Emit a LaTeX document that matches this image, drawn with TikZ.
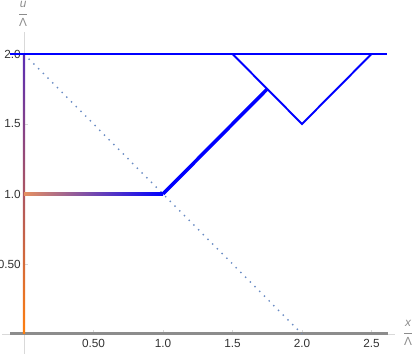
\documentclass[tikz,border=0pt]{standalone}
\usepackage{fontspec}
\setmainfont{Liberation Sans}
\usepackage{amsmath}
\usetikzlibrary{positioning}
\definecolor{flow}{HTML}{0000FF}
\definecolor{guide}{HTML}{6A8CC4}
\definecolor{axisgray}{HTML}{8C8C8C}
\definecolor{axislight}{HTML}{D9D9D9}
\definecolor{ticktext}{HTML}{333333}
\definecolor{hot}{HTML}{FF7F0E}
\definecolor{warm}{HTML}{B85A5A}
\definecolor{cool}{HTML}{5A2DB4}
\definecolor{pale}{HTML}{E69060}

\begin{document}
\begin{tikzpicture}[x=2.78cm,y=2.8cm,
    ticklabel/.style={font=\fontsize{6.7}{7}\selectfont,text=ticktext,inner sep=0pt},
    tickmark/.style={axislight,line width=0.4pt},
    axislabel/.style={font=\fontsize{6.7}{7}\selectfont,text=axisgray,inner sep=0pt}]
  \useasboundingbox (-0.1727,-0.1429) rectangle (2.813,2.3857);
  % axes
  \draw[axislight,line width=0.5pt] (-0.158,0) -- (2.67,0);
  \draw[axislight,line width=0.5pt] (0,-0.143) -- (0,2.157);
  \foreach \t/\lab [count=\i] in {0.5/0.50,1/1.0,1.5/1.5,2/2.0,2.5/2.5}{
    \draw[tickmark] (\t,0) -- ++(0,2.3pt);
    \node[ticklabel,anchor=north] (xtick\i) at ([yshift=-2.8pt]\t,0) {\lab};
  }
  \foreach \t/\lab [count=\i] in {0.5/0.50,1/1.0,1.5/1.5,2/2.0}{
    \draw[tickmark] (0,\t) -- ++(2.3pt,0);
    \node[ticklabel,anchor=east] (ytick\i) at ([xshift=-1.7pt]0,\t) {\lab};
  }
  \node[axislabel] (ylab) at (-0.007,2.286) {$\dfrac{\text{\itshape u}}{\text{Λ}}$};
  \node[axislabel] (xlab) at (2.763,0.007) {$\dfrac{\text{\itshape x}}{\text{Λ}}$};
  \draw[axisgray,line width=1.7pt] (-0.1,0) -- (2.62,0);

  % curve points
  \coordinate (origin) at (0,0);
  \coordinate (top) at (0,2);
  \coordinate (mid) at (0,1);
  \coordinate (kink) at (1,1);
  \coordinate (reach) at (1.75,1.75);
  \coordinate (left) at (-0.1,2);
  \coordinate (right) at (2.61,2);
  \coordinate (vleft) at (1.5,2);
  \coordinate (vtip) at (2,1.5);
  \coordinate (vright) at (2.5,2);
  \coordinate (cross) at (2,0);

  % diagonal guide
  \draw[guide,line width=0.8pt,dash pattern=on 0.8pt off 3pt] (top) -- (cross);

  % coloured branches
  \shade[bottom color=hot,middle color=warm,top color=cool]
    ([xshift=-0.6pt]origin) rectangle ([xshift=0.6pt]top);
  \shade[left color=pale,middle color=cool!80!pale,right color=flow]
    ([yshift=-0.7pt]mid) rectangle ([yshift=0.7pt]kink);

  % blue branches
  \draw[flow,line width=1.1pt] (left) -- (right);
  \draw[flow,line width=1.1pt,line join=miter] (vleft) -- (vtip) -- (vright);
  \draw[flow,line width=2pt] (kink) -- (reach);
\end{tikzpicture}
\end{document}
